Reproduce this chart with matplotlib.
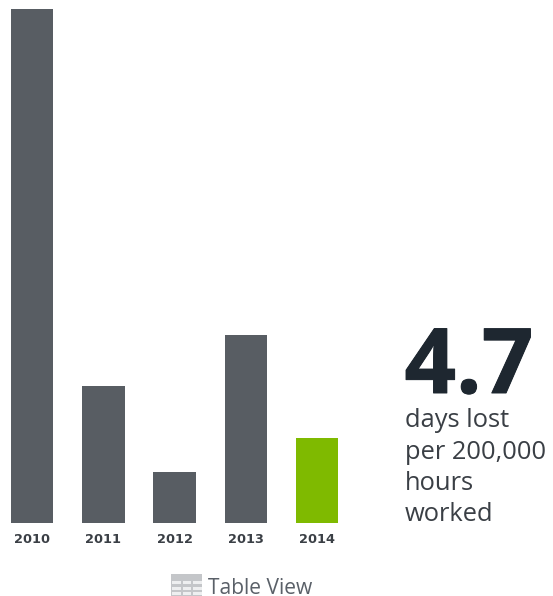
import matplotlib
matplotlib.use("Agg")
import matplotlib.pyplot as plt
import matplotlib.patheffects as path_effects
from matplotlib.patches import Rectangle

years = ["2010", "2011", "2012", "2013", "2014"]
days_lost = [28.4, 7.6, 2.8, 10.4, 4.7]
bar_colors = ["#585d63", "#585d63", "#585d63", "#585d63", "#7fba00"]
headline = "4.7"
caption_lines = ["days lost", "per 200,000", "hours", "worked"]

W, H = 553, 596
fig = plt.figure(figsize=(W / 100, H / 100), dpi=100, facecolor="white")

# Plot area in pixel terms: baseline at y=523, first bar centred at x=32
px_per_unit = 85 / 4.7
step = 71.25
left, right = 0, 360
ax = fig.add_axes([left / W, 1 - 523 / H, (right - left) / W, 523 / H])
ax.set_xlim((left - 32) / step, (right - 32) / step)
ax.set_ylim(0, 523 / px_per_unit)
ax.bar(range(len(years)), days_lost, width=42.5 / step, color=bar_colors, linewidth=0)
ax.set_xticks(range(len(years)), years, fontsize=9.3, fontweight="bold",
              color="#3a3f45", family="DejaVu Sans")
ax.tick_params(axis="x", length=0, pad=7)
ax.set_yticks([])
for spine in ax.spines.values():
    spine.set_visible(False)
ax.patch.set_alpha(0)


def fx(x):
    return x / W


def fy(y):
    return 1 - y / H


def icon_rect(x, y, w, h, color):
    fig.add_artist(Rectangle((fx(x), fy(y + h)), w / W, h / H, transform=fig.transFigure,
                             facecolor=color, edgecolor="none"))


# Headline figure and caption
fig.text(fx(404.5), fy(393), headline, fontsize=65, fontweight="bold", color="#1e2730",
         family="Open Sans", va="baseline", ha="left",
         path_effects=[path_effects.withStroke(linewidth=0.7, foreground="#1e2730")])
for line, base in zip(caption_lines, [427, 459, 490, 521]):
    fig.text(fx(405), fy(base), line, fontsize=18.4, color="#3a3f45",
             family="Open Sans", va="baseline", ha="left")

# Table icon: grey frame with three columns of pale cells under a header band
ix, iy, iw, ih = 171, 574, 31, 22
icon_rect(ix, iy, iw, ih, "#c4c6c9")
for top in (581, 586.5, 592):
    for cell_x in (172, 182.5, 193):
        icon_rect(cell_x, top, 8.5, 3.2, "#eeeff0")
fig.text(fx(208), fy(593.5), "Table View", fontsize=15.1, color="#5a6068",
         family="Open Sans", va="baseline", ha="left")

fig.savefig("out.png", dpi=100, facecolor="white")
